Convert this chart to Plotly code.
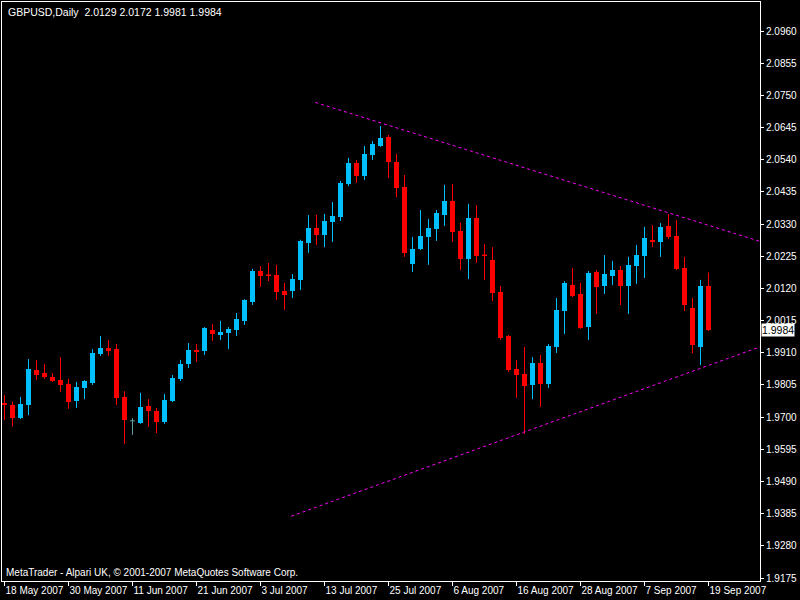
import plotly.graph_objects as go

# ---- data (GBPUSD daily, 18 May 2007 .. 19 Sep 2007) ----
opens = [1.9747, 1.9740, 1.9698, 1.9740, 1.9854, 1.9845, 1.9831, 1.9821, 1.9808, 1.9753,
         1.9796, 1.9812, 1.9906, 1.9926, 1.9922, 1.9766, 1.9688, 1.9681, 1.9736, 1.9720,
         1.9684, 1.9753, 1.9825, 1.9874, 1.9919, 1.9916, 1.9985, 1.9968, 1.9975, 1.9985,
         2.0014, 2.0076, 2.0177, 2.0164, 2.0164, 2.0112, 2.0112, 2.0149, 2.0269, 2.0316,
         2.0296, 2.0337, 2.0353, 2.0461, 2.0529, 2.0487, 2.0555, 2.0585, 2.0614, 2.0533,
         2.0451, 2.0200, 2.0249, 2.0288, 2.0314, 2.0360, 2.0405, 2.0308, 2.0216, 2.0350,
         2.0229, 2.0213, 2.0108, 1.9965, 1.9857, 1.9841, 1.9805, 1.9877, 1.9808, 1.9929,
         2.0046, 2.0131, 2.0102, 1.9994, 2.0174, 2.0128, 2.0161, 2.0180, 2.0128, 2.0193,
         2.0226, 2.0278, 2.0272, 2.0324, 2.0291, 2.0187, 2.0056, 1.9929, 2.0129]
highs = [1.9772, 1.9751, 1.9766, 1.9890, 1.9887, 1.9874, 1.9844, 1.9896, 1.9825, 1.9815,
         1.9821, 1.9922, 1.9965, 1.9952, 1.9939, 1.9785, 1.9697, 1.9779, 1.9759, 1.9730,
         1.9776, 1.9838, 1.9887, 1.9942, 1.9939, 1.9994, 2.0004, 2.0014, 1.9994, 2.0040,
         2.0085, 2.0184, 2.0193, 2.0203, 2.0197, 2.0138, 2.0167, 2.0279, 2.0360, 2.0360,
         2.0363, 2.0402, 2.0471, 2.0546, 2.0539, 2.0585, 2.0601, 2.0650, 2.0621, 2.0559,
         2.0490, 2.0288, 2.0376, 2.0347, 2.0376, 2.0458, 2.0461, 2.0334, 2.0396, 2.0392,
         2.0265, 2.0255, 2.0128, 1.9968, 1.9887, 1.9929, 1.9896, 1.9903, 1.9939, 2.0089,
         2.0144, 2.0187, 2.0138, 2.0177, 2.0180, 2.0229, 2.0210, 2.0193, 2.0223, 2.0262,
         2.0321, 2.0327, 2.0334, 2.0363, 2.0343, 2.0223, 2.0089, 2.0148, 2.0172]
lows = [1.9691, 1.9669, 1.9694, 1.9707, 1.9821, 1.9825, 1.9815, 1.9782, 1.9727, 1.9730,
        1.9759, 1.9805, 1.9900, 1.9900, 1.9740, 1.9613, 1.9642, 1.9678, 1.9668, 1.9648,
        1.9678, 1.9749, 1.9818, 1.9860, 1.9880, 1.9903, 1.9949, 1.9952, 1.9922, 1.9965,
        2.0001, 2.0066, 2.0125, 2.0144, 2.0082, 2.0050, 2.0089, 2.0115, 2.0236, 2.0262,
        2.0255, 2.0272, 2.0340, 2.0454, 2.0464, 2.0474, 2.0539, 2.0582, 2.0480, 2.0418,
        2.0223, 2.0174, 2.0245, 2.0197, 2.0275, 2.0324, 2.0272, 2.0180, 2.0151, 2.0203,
        2.0148, 2.0079, 1.9952, 1.9847, 1.9763, 1.9645, 1.9759, 1.9733, 1.9795, 1.9909,
        1.9971, 2.0092, 1.9988, 1.9952, 2.0037, 2.0102, 2.0131, 2.0066, 2.0037, 2.0135,
        2.0154, 2.0255, 2.0223, 2.0281, 2.0180, 2.0046, 1.9909, 1.9870, 1.9981]
closes = [1.9740, 1.9698, 1.9744, 1.9857, 1.9838, 1.9831, 1.9818, 1.9805, 1.9749, 1.9798,
          1.9818, 1.9909, 1.9926, 1.9916, 1.9763, 1.9691, 1.9688, 1.9733, 1.9720, 1.9684,
          1.9756, 1.9828, 1.9874, 1.9919, 1.9913, 1.9991, 1.9971, 1.9978, 1.9988, 2.0020,
          2.0082, 2.0177, 2.0161, 2.0162, 2.0108, 2.0099, 2.0151, 2.0276, 2.0316, 2.0296,
          2.0340, 2.0356, 2.0464, 2.0529, 2.0487, 2.0559, 2.0591, 2.0611, 2.0533, 2.0448,
          2.0236, 2.0249, 2.0291, 2.0317, 2.0366, 2.0405, 2.0304, 2.0216, 2.0350, 2.0226,
          2.0227, 2.0105, 1.9958, 1.9854, 1.9838, 1.9802, 1.9877, 1.9808, 1.9932, 2.0050,
          2.0138, 2.0095, 1.9991, 2.0170, 2.0125, 2.0167, 2.0180, 2.0128, 2.0197, 2.0229,
          2.0285, 2.0272, 2.0321, 2.0288, 2.0184, 2.0066, 1.9936, 2.0128, 1.9984]

date_tick_index = [0, 8, 16, 24, 32, 40, 48, 56, 64, 72, 80, 88]
date_tick_labels = ["18 May 2007", "30 May 2007", "11 Jun 2007", "21 Jun 2007", "3 Jul 2007",
                    "13 Jul 2007", "25 Jul 2007", "6 Aug 2007", "16 Aug 2007", "28 Aug 2007",
                    "7 Sep 2007", "19 Sep 2007"]
price_ticks = [2.0960, 2.0855, 2.0750, 2.0645, 2.0540, 2.0435, 2.0330, 2.0225, 2.0120,
               2.0015, 1.9910, 1.9805, 1.9700, 1.9595, 1.9490, 1.9385, 1.9280, 1.9175]

upper_line_x = [38.85, 94.5]
upper_line_y = [2.0727, 2.0273]
lower_line_x = [35.85, 94.5]
lower_line_y = [1.9377, 1.9930]

title_text = "GBPUSD,Daily  2.0129 2.0172 1.9981 1.9984"
copyright_text = "MetaTrader - Alpari UK, © 2001-2007 MetaQuotes Software Corp."
last_price = closes[-1]

# ---- styles ----
UP = "#00BFFF"
DOWN = "#FF0000"
DOJI = "#5F9EA0"
FONT = "Liberation Sans, Arial, sans-serif"
BODY_W = 0.625

fig = go.Figure()

groups = {"up": [], "down": [], "doji": []}
for i, (o, c) in enumerate(zip(opens, closes)):
    if c > o:
        groups["up"].append(i)
    elif c < o:
        groups["down"].append(i)
    else:
        groups["doji"].append(i)

colors = {"up": UP, "down": DOWN, "doji": DOJI}
for g, idx in groups.items():
    col = colors[g]
    wx, wy = [], []
    for i in idx:
        wx += [i, i, None]
        wy += [lows[i], highs[i], None]
    fig.add_trace(go.Scatter(x=wx, y=wy, mode="lines", line=dict(color=col, width=1),
                             hoverinfo="skip", showlegend=False))
    bx = [i for i in idx if abs(closes[i] - opens[i]) > 0]
    if bx:
        fig.add_trace(go.Bar(x=bx, y=[abs(closes[i] - opens[i]) for i in bx],
                             base=[min(opens[i], closes[i]) for i in bx],
                             width=BODY_W, marker=dict(color=col, line=dict(width=0)),
                             showlegend=False))
    hx, hy = [], []
    for i in idx:
        if abs(closes[i] - opens[i]) < 0.0004:
            hx += [i - BODY_W / 2, i + BODY_W / 2, None]
            hy += [opens[i], opens[i], None]
    if hx:
        fig.add_trace(go.Scatter(x=hx, y=hy, mode="lines", line=dict(color=col, width=1),
                                 hoverinfo="skip", showlegend=False))

for lx, ly in ((upper_line_x, upper_line_y), (lower_line_x, lower_line_y)):
    fig.add_trace(go.Scatter(x=lx, y=ly, mode="lines",
                             line=dict(color="#FF00FF", width=1, dash="3px,3px"),
                             hoverinfo="skip", showlegend=False))

fig.add_annotation(text=title_text, xref="paper", yref="paper", x=0, y=1,
                   xanchor="left", yanchor="top", xshift=4, yshift=-2, showarrow=False,
                   font=dict(color="white", size=10.5, family=FONT))
fig.add_annotation(text=copyright_text, xref="paper", yref="paper", x=0, y=0,
                   xanchor="left", yanchor="bottom", xshift=2, yshift=1, showarrow=False,
                   font=dict(color="white", size=10, family=FONT))
fig.add_annotation(text=f"{last_price:.4f}", xref="paper", yref="y", x=1, y=last_price,
                   xanchor="left", yanchor="middle", xshift=1, showarrow=False,
                   bgcolor="white", borderpad=0,
                   font=dict(color="black", size=10.5, family=FONT))

fig.update_layout(
    width=800, height=600,
    margin=dict(l=2, r=40, t=2, b=19, autoexpand=False),
    paper_bgcolor="black", plot_bgcolor="black",
    barmode="overlay", bargap=0,
    showlegend=False,
    font=dict(family=FONT, color="white", size=10),
    xaxis=dict(range=[-0.3125, 94.4375], tickmode="array", tickvals=date_tick_index,
               ticktext=date_tick_labels, ticks="outside", ticklen=4, tickcolor="white",
               ticklabelposition="outside right", tickangle=0, automargin=False,
               showgrid=False, zeroline=False, showline=True, linecolor="white",
               linewidth=1, mirror=True, tickfont=dict(color="white", size=10, family=FONT),
               fixedrange=True),
    yaxis=dict(range=[1.91654, 2.10547], side="right", tickmode="array",
               tickvals=price_ticks, ticktext=[f"{p:.4f}" for p in price_ticks],
               ticks="outside", ticklen=3, tickcolor="white", automargin=False,
               showgrid=False, zeroline=False, showline=True, linecolor="white",
               linewidth=1, mirror=True, tickfont=dict(color="white", size=10, family=FONT),
               fixedrange=True),
)

fig.write_html("out.html", config={"displayModeBar": False, "staticPlot": True},
               post_script="document.body.style.margin='0';document.body.style.background='black';")
